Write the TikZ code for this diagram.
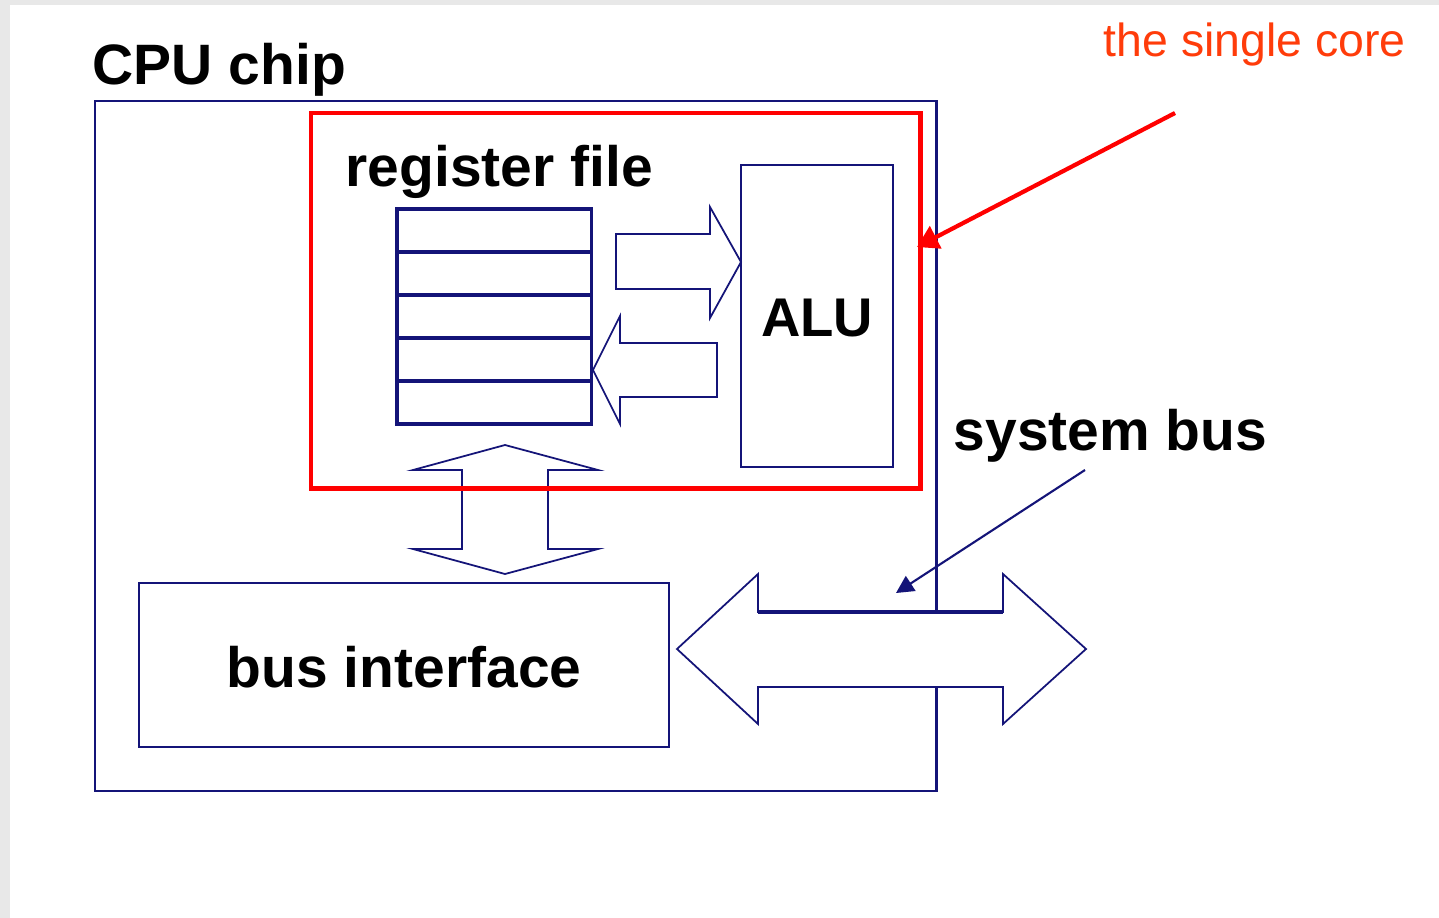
\documentclass[tikz,border=0pt]{standalone}
\usepackage{fontspec}
\setmainfont{Liberation Sans}
\usetikzlibrary{positioning, calc, arrows.meta}
\definecolor{chipblue}{RGB}{20,20,120}
\definecolor{corered}{RGB}{255,0,0}
\definecolor{notered}{RGB}{255,60,10}

\begin{document}
\begin{tikzpicture}[x=0.01cm, y=-0.01cm,
    box/.style={draw=chipblue, line width=0.6pt, inner sep=0pt, outer sep=0pt, anchor=north west},
    cell/.style={box, line width=0.9pt, minimum width=1.94cm, minimum height=0.43cm},
    big/.style={font=\fontsize{16.2}{19}\bfseries\selectfont, inner sep=0pt},
    blockarrow/.style={draw=chipblue, line width=0.5pt, fill=white, line join=miter}]
		\useasboundingbox (0,0) rectangle (1439,918);
		\fill[black!9] (0,0) rectangle (1439,918);
		\fill[white] (10,5) rectangle (1439,918);

		\node[box, minimum width=8.41cm, minimum height=6.90cm] (chip) at (95,101) {};
		\foreach \i in {0,...,4}
			\node[cell] (reg\i) at (397,{209+43*\i}) {};
		\node[box, minimum width=1.52cm, minimum height=3.02cm] (alu) at (741,165) {};
		\node[box, minimum width=5.30cm, minimum height=1.64cm] (bus) at (139,583) {};

		\draw[blockarrow] (616,234) -- (710,234) -- (710,207) -- (741,262) -- (710,318)
			-- (710,289) -- (616,289) -- cycle;
		\draw[blockarrow] (717,343) -- (620,343) -- (620,316) -- (593,370) -- (620,424)
			-- (620,397) -- (717,397) -- cycle;
		\draw[blockarrow] (462,470) -- (413,470) -- (505,445) -- (598,470) -- (548,470)
			-- (548,549) -- (598,549) -- (505,574) -- (413,549) -- (462,549) -- cycle;
		\draw[blockarrow] (758,612) -- (758,574) -- (677,649) -- (758,724) -- (758,687)
			-- (1003,687) -- (1003,724) -- (1086,649) -- (1003,574) -- (1003,612) -- cycle;
		\draw[chipblue, line width=1pt] (758,612) -- (1003,612);

		\node[box, draw=corered, line width=1.3pt, minimum width=6.09cm, minimum height=3.75cm] (core) at (311,113) {};

		\node[big, anchor=base west] (chiplabel) at (92,84) {CPU chip};
		\node[big, anchor=base west] (reglabel) at (345,186) {register file};
		\node[big, font=\fontsize{15.5}{18}\bfseries\selectfont] (alulabel) at ($(alu.center)+(0,2)$) {ALU};
		\node[big] (buslabel) at ($(bus.center)+(0,2)$) {bus interface};
		\node[big, anchor=base west] (sysbus) at (953,450) {system bus};
		\node[anchor=base west, inner sep=0pt, text=notered, font=\fontsize{13.2}{16}\selectfont] (corelabel) at (1103,57) {the single core};

		\coordinate (coretail) at (1175,113);
		\coordinate (coretip) at (917,247);
		\coordinate (bustail) at (1085,470);
		\coordinate (bustip) at (896,593);
		\draw[corered, line width=1.2pt, -{Triangle[length=6pt, width=7pt]}] (coretail) -- (coretip);
		\draw[chipblue, line width=0.6pt, -{Triangle[length=5pt, width=5pt]}] (bustail) -- (bustip);
\end{tikzpicture}
\end{document}
